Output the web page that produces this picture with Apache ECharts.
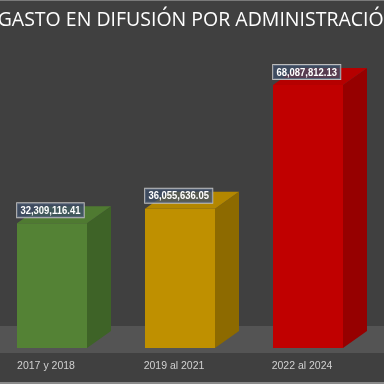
<!DOCTYPE html>
<html>
<head>
<meta charset="utf-8">
<script src="https://cdn.jsdelivr.net/npm/echarts@6/dist/echarts.min.js"></script>
<style>html,body{margin:0;padding:0;background:#404040;}#c{width:384px;height:384px;}</style>
</head>
<body>
<div id="c"></div>
<script>
const titleText = 'GASTO EN DIFUSIÓN POR ADMINISTRACIÓN';
const categories = ['2017 y 2018', '2019 al 2021', '2022 al 2024'];
const values = [32309116.41, 36055636.05, 68087812.13];
const frontColors = ['#548235', '#bf9000', '#c00000'];
const sideColors = ['#3e6327', '#8d6a00', '#960000'];
const topColors = ['#4f7a31', '#b38700', '#b50000'];

function fmt(v) {
  return v.toLocaleString('en-US', {minimumFractionDigits: 2, maximumFractionDigits: 2});
}

const chart = echarts.init(document.getElementById('c'), null, {renderer: 'canvas'});
const option = {
  backgroundColor: '#404040',
  animation: false,
  grid: {left: 52, right: 76, top: 39, bottom: 36, containLabel: false},
  xAxis: {
    type: 'category',
    data: categories,
    boundaryGap: false,
    axisLine: {show: false},
    axisTick: {show: false},
    splitLine: {show: false},
    axisLabel: {color: '#d0d0d0', fontSize: 10.5, fontFamily: 'Liberation Sans', margin: 13, padding: [0, 12, 0, 0]}
  },
  yAxis: {type: 'value', min: 0, max: 80000000, show: false, splitLine: {show: false}},
  graphic: [
    {type: 'rect', z: -10, shape: {x: 0, y: 326, width: 384, height: 27}, style: {fill: '#545454'}},
    {type: 'rect', z: -10, shape: {x: 0, y: 0, width: 384, height: 1}, style: {fill: '#7a7a7a'}},
    {type: 'rect', z: -10, shape: {x: 0, y: 382, width: 384, height: 2}, style: {fill: '#8a8a8a'}},
    {type: 'text', z: 10, style: {text: titleText, x: 198, y: 20, align: 'center', verticalAlign: 'middle', fill: '#ffffff', font: '19.5px "Open Sans"'}}
  ],
  series: [{
    type: 'custom',
    z: 2,
    data: values.map((v, i) => [i, v]),
    renderItem: function (params, api) {
      const i = api.value(0);
      const v = api.value(1);
      const top = api.coord([i, v]);
      const bot = api.coord([i, 0]);
      const w = 70, dx = 24, dy = -17;
      const l = top[0] - w / 2, r = top[0] + w / 2;
      const t = top[1], b = bot[1];
      return {
        type: 'group',
        children: [
          {type: 'polygon', shape: {points: [[r, t], [r + dx, t + dy], [r + dx, b + dy], [r, b]]}, style: {fill: sideColors[i]}},
          {type: 'polygon', shape: {points: [[l, t], [l + dx, t + dy], [r + dx, t + dy], [r, t]]}, style: {fill: topColors[i]}},
          {type: 'rect', shape: {x: l, y: t, width: w, height: b - t}, style: {fill: frontColors[i]}},
          {type: 'text', x: l, y: t - 6, scaleX: 0.86, style: {
            text: fmt(v), x: 0, y: 0, align: 'left', verticalAlign: 'bottom',
            fill: '#ffffff', font: 'bold 11px "Liberation Sans"',
            backgroundColor: 'rgba(62,78,104,0.78)', borderColor: '#bdbdbd', borderWidth: 1,
            padding: [2, 4, 1, 4]
          }}
        ]
      };
    }
  }]
};
chart.setOption(option);
</script>
</body>
</html>
